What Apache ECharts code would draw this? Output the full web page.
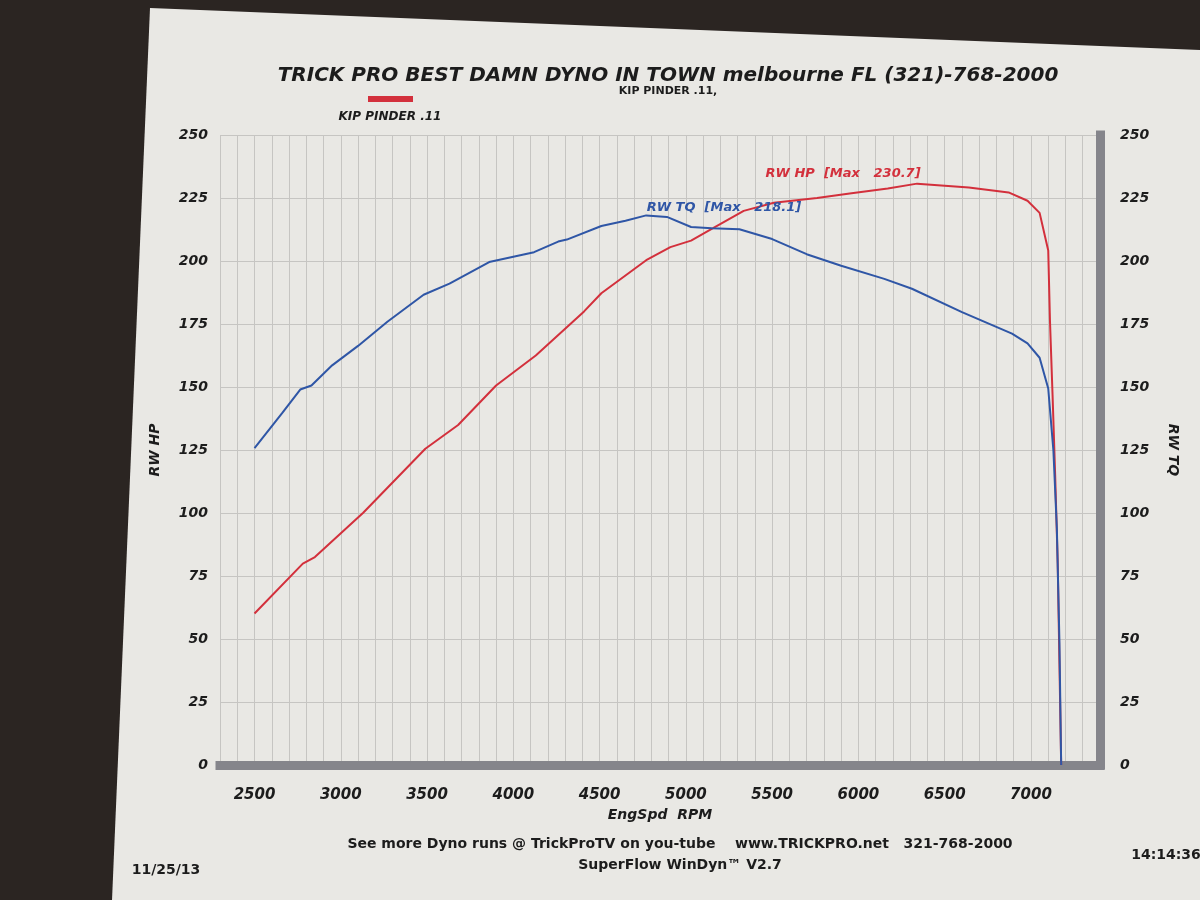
<!DOCTYPE html>
<html>
<head>
<meta charset="utf-8">
<script src="https://cdn.jsdelivr.net/npm/echarts@6/dist/echarts.min.js"></script>
<style>
  html, body { margin: 0; padding: 0; background: #2b2522; }
  #chart { width: 1200px; height: 900px; }
</style>
</head>
<body>
<div id="chart"></div>
<script>
// ---- data read from the dyno sheet ----
const rpmHP = [2500,2780,2850,3130,3490,3680,3900,4130,4410,4510,4770,4910,5030,5160,5335,5510,5760,5960,6170,6340,6640,6870,6980,7050,7100,7110,7125,7140,7155,7165,7175];
const hpVals = [60.1,79.9,82.5,100.1,125.5,134.9,150.6,162.5,180.0,187.2,200.3,205.5,208.1,213.1,219.9,223.1,225.0,226.9,228.8,230.7,229.2,227.2,223.9,219.1,204.2,176.4,146.9,115.4,80,40,0];
const rpmTQ = [2500,2660,2765,2830,2950,3100,3270,3480,3630,3860,4120,4260,4310,4510,4650,4770,4890,5030,5150,5310,5500,5700,5900,6150,6310,6600,6890,6980,7050,7100,7130,7150,7165,7175];
const tqVals = [125.7,139.6,149.0,150.6,158.6,166.3,175.9,186.6,191.0,199.6,203.5,207.7,208.5,213.9,216.0,218.1,217.5,213.5,213.0,212.6,208.7,202.7,198.1,192.9,189.0,179.7,171.2,167.3,161.6,149.4,124.7,93.8,48.6,0];
const rpmLabels = [2500,3000,3500,4000,4500,5000,5500,6000,6500,7000];
const titleText = 'TRICK PRO BEST DAMN DYNO IN TOWN melbourne FL (321)-768-2000';
const subTitle = 'KIP PINDER .11,';
const runName = 'KIP PINDER .11';
const footer1 = 'See more Dyno runs @ TrickProTV on you-tube    www.TRICKPRO.net   321-768-2000';
const footer2 = 'SuperFlow WinDyn\u2122 V2.7';
const dateText = '11/25/13';
const timeText = '14:14:36';

const RED = '#d3303c';
const BLUE = '#2f56a6';
const INK = '#1c1c1c';
const FONT = '"DejaVu Sans", sans-serif';

const hpData = rpmHP.map((r, i) => [r, hpVals[i]]);
const tqData = rpmTQ.map((r, i) => [r, tqVals[i]]);

const chart = echarts.init(document.getElementById('chart'));
const tickLabel = { color: INK, fontFamily: FONT, fontStyle: 'italic', fontWeight: 'bold', fontSize: 14 };
const txt = (x, y, text, font, fill) => ({ type: 'text', x: x, y: y,
  style: { text: text, fill: fill || INK, font: font, align: 'center', verticalAlign: 'middle', textAlign: 'center', textVerticalAlign: 'middle' } });

chart.setOption({
  backgroundColor: '#2b2522',
  animation: false,
  grid: { left: 220, right: 100, top: 135, bottom: 135, containLabel: false },
  graphic: [
    { type: 'polygon', z: -10, silent: true,
      shape: { points: [[150, 8], [1200, 50], [1200, 900], [112, 900]] },
      style: { fill: '#e9e8e4' } },
    txt(668, 76, titleText, 'italic bold 20px "DejaVu Sans"'),
    txt(668, 91, subTitle, 'bold 11px "DejaVu Sans"'),
    { type: 'rect', shape: { x: 368, y: 96, width: 45, height: 6 }, style: { fill: RED } },
    txt(390, 117, runName, 'italic bold 12px "DejaVu Sans"'),
    txt(680, 844, footer1, 'bold 14px "DejaVu Sans"'),
    txt(680, 865, footer2, 'bold 14px "DejaVu Sans"'),
    txt(166, 870, dateText, 'bold 14px "DejaVu Sans"'),
    txt(1166, 855, timeText, 'bold 14px "DejaVu Sans"')
  ],
  xAxis: {
    type: 'value', min: 2300, max: 7400, interval: 100, offset: 5,
    axisLine: { show: true, lineStyle: { color: '#85858b', width: 9, cap: 'square' } },
    axisTick: { show: false },
    axisLabel: Object.assign({}, tickLabel, { margin: 18, fontSize: 15,
      formatter: v => rpmLabels.includes(v) ? String(v) : '' }),
    splitLine: { show: true, lineStyle: { color: '#c6c5c2', width: 1 } },
    name: 'EngSpd  RPM', nameLocation: 'middle', nameGap: 36,
    nameTextStyle: { color: INK, fontFamily: FONT, fontStyle: 'italic', fontWeight: 'bold', fontSize: 14 }
  },
  yAxis: [
    { type: 'value', min: 0, max: 250, interval: 25, position: 'left',
      axisLine: { show: false }, axisTick: { show: false },
      axisLabel: Object.assign({}, tickLabel, { margin: 12 }),
      splitLine: { show: true, lineStyle: { color: '#c6c5c2', width: 1 } },
      name: 'RW HP', nameLocation: 'middle', nameGap: 58,
      nameTextStyle: { color: INK, fontFamily: FONT, fontStyle: 'italic', fontWeight: 'bold', fontSize: 14 } },
    { type: 'value', min: 0, max: 250, interval: 25, position: 'right', offset: 0,
      axisLine: { show: true, lineStyle: { color: '#85858b', width: 9, cap: 'square' } }, axisTick: { show: false },
      axisLabel: Object.assign({}, tickLabel, { margin: 20 }),
      splitLine: { show: false },
      name: 'RW TQ', nameLocation: 'middle', nameGap: 66, nameRotate: -90,
      nameTextStyle: { color: INK, fontFamily: FONT, fontStyle: 'italic', fontWeight: 'bold', fontSize: 14 } }
  ],
  series: [
    { name: 'RW HP', type: 'line', yAxisIndex: 0, data: hpData, showSymbol: false, z: 3,
      lineStyle: { color: RED, width: 2 }, itemStyle: { color: RED },
      markPoint: { symbol: 'circle', symbolSize: 1, itemStyle: { color: 'rgba(0,0,0,0)' },
        data: [{ type: 'max' }],
        label: { show: true, position: 'left', distance: 0, offset: [4, -10], color: RED,
          fontFamily: FONT, fontStyle: 'italic', fontWeight: 'bold', fontSize: 13,
          formatter: p => 'RW HP  [Max   ' + Number(p.value).toFixed(1) + ']' } } },
    { name: 'RW TQ', type: 'line', yAxisIndex: 1, data: tqData, showSymbol: false, z: 4,
      lineStyle: { color: BLUE, width: 2 }, itemStyle: { color: BLUE },
      markPoint: { symbol: 'circle', symbolSize: 1, itemStyle: { color: 'rgba(0,0,0,0)' },
        data: [{ type: 'max' }],
        label: { show: true, position: 'right', distance: 0, offset: [0, -8], color: BLUE,
          fontFamily: FONT, fontStyle: 'italic', fontWeight: 'bold', fontSize: 13,
          formatter: p => 'RW TQ  [Max   ' + Number(p.value).toFixed(1) + ']' } } }
  ]
});
</script>
</body>
</html>
